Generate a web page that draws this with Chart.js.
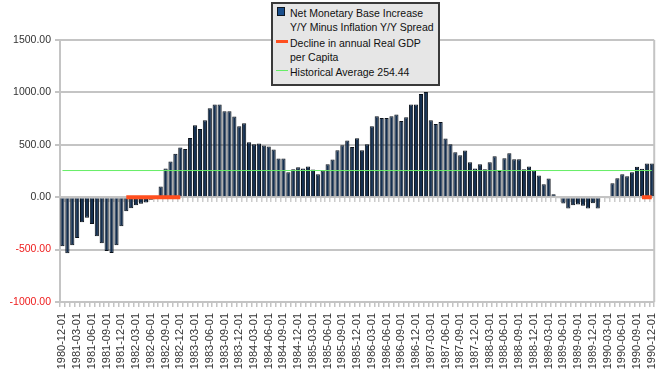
<!DOCTYPE html>
<html><head><meta charset="utf-8">
<script src="https://cdn.jsdelivr.net/npm/chart.js@4"></script>
<style>
html,body{margin:0;padding:0;background:#fff;overflow:hidden;}
#wrap{position:relative;width:671px;height:371px;}
#legend{position:absolute;left:271px;top:2px;width:165px;height:80px;border:2px solid #3a3a3a;background:#e6e6e6;font-family:"Liberation Sans",Arial,sans-serif;font-size:10.5px;color:#111;}
.lt{position:absolute;left:17px;line-height:14px;white-space:nowrap;}
.ic{position:absolute;}
</style></head>
<body>
<div id="wrap">
<canvas id="c" width="671" height="371"></canvas>
<div id="legend">
  <div class="ic" style="left:4px;top:3px;width:6px;height:7px;border:1px solid #0e1722;background:#1a4f8c;"></div>
  <div class="lt" style="top:2px;">Net Monetary Base Increase</div>
  <div class="lt" style="top:16px;">Y/Y Minus Inflation Y/Y Spread</div>
  <div class="ic" style="left:3px;top:36px;width:12px;height:3px;background:#ff4f1f;"></div>
  <div class="lt" style="top:32px;">Decline in annual Real GDP</div>
  <div class="lt" style="top:46px;">per Capita</div>
  <div class="ic" style="left:3px;top:66px;width:12px;height:1px;background:#66ee66;"></div>
  <div class="lt" style="top:61px;">Historical Average 254.44</div>
</div>
</div>
<script>
const categories = [
 "1980-12-01",
 "1981-01-01","1981-02-01","1981-03-01","1981-04-01","1981-05-01","1981-06-01","1981-07-01","1981-08-01","1981-09-01","1981-10-01","1981-11-01","1981-12-01",
 "1982-01-01","1982-02-01","1982-03-01","1982-04-01","1982-05-01","1982-06-01","1982-07-01","1982-08-01","1982-09-01","1982-10-01","1982-11-01","1982-12-01",
 "1983-01-01","1983-02-01","1983-03-01","1983-04-01","1983-05-01","1983-06-01","1983-07-01","1983-08-01","1983-09-01","1983-10-01","1983-11-01","1983-12-01",
 "1984-01-01","1984-02-01","1984-03-01","1984-04-01","1984-05-01","1984-06-01","1984-07-01","1984-08-01","1984-09-01","1984-10-01","1984-11-01","1984-12-01",
 "1985-01-01","1985-02-01","1985-03-01","1985-04-01","1985-05-01","1985-06-01","1985-07-01","1985-08-01","1985-09-01","1985-10-01","1985-11-01","1985-12-01",
 "1986-01-01","1986-02-01","1986-03-01","1986-04-01","1986-05-01","1986-06-01","1986-07-01","1986-08-01","1986-09-01","1986-10-01","1986-11-01","1986-12-01",
 "1987-01-01","1987-02-01","1987-03-01","1987-04-01","1987-05-01","1987-06-01","1987-07-01","1987-08-01","1987-09-01","1987-10-01","1987-11-01","1987-12-01",
 "1988-01-01","1988-02-01","1988-03-01","1988-04-01","1988-05-01","1988-06-01","1988-07-01","1988-08-01","1988-09-01","1988-10-01","1988-11-01","1988-12-01",
 "1989-01-01","1989-02-01","1989-03-01","1989-04-01","1989-05-01","1989-06-01","1989-07-01","1989-08-01","1989-09-01","1989-10-01","1989-11-01","1989-12-01",
 "1990-01-01","1990-02-01","1990-03-01","1990-04-01","1990-05-01","1990-06-01","1990-07-01","1990-08-01","1990-09-01","1990-10-01","1990-11-01","1990-12-01"
];
const spreadValues = [
 -468,
 -535,-458,-390,-240,-196,-256,-373,-440,-514,-532,-458,-277,
 -134,-106,-78,-62,-50,-25,5,103,275,340,415,475,
 459,564,686,651,734,848,885,885,820,820,770,677,
 705,524,506,513,494,484,456,370,370,239,266,285,
 274,292,264,220,255,314,359,447,496,542,478,563,
 448,505,676,773,755,755,773,790,726,764,885,885,
 985,1003,735,698,718,560,505,429,400,446,333,275,
 314,266,333,390,249,372,420,363,362,266,293,256,
 207,124,178,28,-8,-60,-107,-78,-70,-82,-107,-58,
 -107,-10,-12,132,180,218,200,237,290,272,322,322
];
const recessionMonths = [
 "1982-01-01","1982-02-01","1982-03-01","1982-04-01","1982-05-01","1982-06-01",
 "1982-07-01","1982-08-01","1982-09-01","1982-10-01","1982-11-01","1982-12-01",
 "1990-10-01","1990-11-01","1990-12-01"
];
const recessionLevel = 0;
const historicalAverage = 254.44;
const xTickLabels = [
 "1980-12-01","1981-03-01","1981-06-01","1981-09-01","1981-12-01","1982-03-01","1982-06-01","1982-09-01","1982-12-01",
 "1983-03-01","1983-06-01","1983-09-01","1983-12-01","1984-03-01","1984-06-01","1984-09-01","1984-12-01",
 "1985-03-01","1985-06-01","1985-09-01","1985-12-01","1986-03-01","1986-06-01","1986-09-01","1986-12-01",
 "1987-03-01","1987-06-01","1987-09-01","1987-12-01","1988-03-01","1988-06-01","1988-09-01","1988-12-01",
 "1989-03-01","1989-06-01","1989-09-01","1989-12-01","1990-03-01","1990-06-01","1990-09-01","1990-12-01"
];
const yMin = -1000, yMax = 1500, yStep = 500;

const frame = {
  id: 'frame',
  beforeDatasetsDraw(chart) {
    const a = chart.chartArea, ctx = chart.ctx;
    ctx.save();
    ctx.strokeStyle = '#c4c4c4';
    ctx.lineWidth = 2;
    ctx.beginPath();
    ctx.moveTo(a.right, a.top);
    ctx.lineTo(a.right, a.bottom);
    ctx.stroke();
    ctx.restore();
  }
};

const FONT = '"Liberation Sans", Arial, sans-serif';
new Chart(document.getElementById('c'), {
  type: 'bar',
  data: {
    labels: categories,
    datasets: [
      {
        type: 'line',
        label: 'Historical Average 254.44',
        data: [{x: categories[0], y: historicalAverage}, {x: categories[categories.length - 1], y: historicalAverage}],
        borderColor: '#66ee66',
        borderWidth: 1,
        pointRadius: 0,
        order: 0
      },
      {
        type: 'line',
        label: 'Decline in annual Real GDP per Capita',
        data: categories.map(c => recessionMonths.includes(c) ? recessionLevel : null),
        borderColor: '#ff4f1f',
        borderWidth: 4,
        borderCapStyle: 'butt',
        pointRadius: 0,
        spanGaps: false,
        order: 1
      },
      {
        type: 'bar',
        label: 'Net Monetary Base Increase Y/Y Minus Inflation Y/Y Spread',
        data: spreadValues,
        backgroundColor: '#142f50',
        borderColor: '#0a1119',
        borderWidth: 1,
        barPercentage: 0.85,
        categoryPercentage: 1,
        order: 3
      }
    ]
  },
  options: {
    responsive: false,
    animation: false,
    events: [],
    layout: { padding: { top: 40, right: 9, left: 0, bottom: 0 } },
    plugins: { legend: { display: false }, tooltip: { enabled: false } },
    scales: {
      x: {
        type: 'category',
        position: 'bottom',
        offset: true,
        afterFit: s => { s.height = 69; },
        grid: { offset: true, drawOnChartArea: false, tickLength: 5, color: '#c4c4c4', lineWidth: 1.5 },
        border: { display: true, color: '#c4c4c4', width: 2 },
        ticks: {
          autoSkip: false, maxRotation: 90, minRotation: 90, padding: 6,
          color: '#333', font: { family: FONT, size: 11 },
          callback: (v, i) => xTickLabels.includes(categories[i]) ? categories[i] : ''
        }
      },
      xZero: {
        type: 'category',
        position: { y: 0 },
        offset: true,
        grid: { offset: true, drawOnChartArea: false, tickLength: 5, color: '#cccccc', lineWidth: 1.5 },
        border: { display: false },
        ticks: { display: false }
      },
      y: {
        min: yMin, max: yMax,
        afterFit: s => { s.width = 60; },
        grid: { color: '#c4c4c4', lineWidth: 2, tickLength: 5 },
        border: { color: '#c4c4c4', width: 2 },
        ticks: {
          stepSize: yStep, padding: 4,
          font: { family: FONT, size: 10.5 },
          color: ctx => ctx.tick.value < 0 ? '#ee1c1c' : '#333',
          callback: v => v.toFixed(2)
        }
      }
    }
  },
  plugins: [frame]
});
</script>
</body></html>
